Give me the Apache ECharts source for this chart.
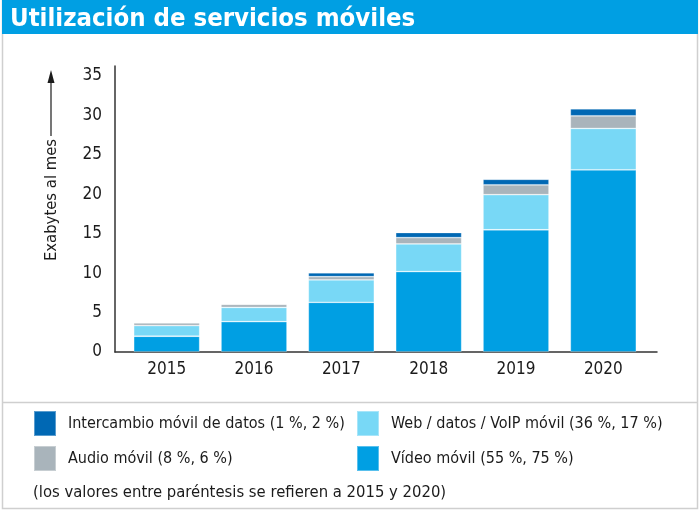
<!DOCTYPE html>
<html>
<head>
<meta charset="utf-8">
<script src="https://cdn.jsdelivr.net/npm/echarts@6/dist/echarts.min.js"></script>
<style>
html,body{margin:0;padding:0;background:#fff;}
#chart{width:700px;height:514px;}
</style>
</head>
<body>
<div id="chart"></div>
<script>
const titleText = 'Utilización de servicios móviles';
const axisName = 'Exabytes al mes';
const footNote = '(los valores entre paréntesis se refieren a 2015 y 2020)';
const years = ['2015', '2016', '2017', '2018', '2019', '2020'];
const yTicks = [0, 5, 10, 15, 20, 25, 30, 35];
const nameVideo = 'Vídeo móvil (55 %, 75 %)';
const nameWeb = 'Web / datos / VoIP móvil (36 %, 17 %)';
const nameAudio = 'Audio móvil (8 %, 6 %)';
const nameData = 'Intercambio móvil de datos (1 %, 2 %)';
const video = [2.0, 3.85, 6.3, 10.2, 15.5, 23.1];
const web = [1.35, 1.8, 2.85, 3.5, 4.45, 5.25];
const audio = [0.35, 0.4, 0.4, 0.8, 1.25, 1.6];
const dataX = [0.04, 0.06, 0.5, 0.65, 0.7, 0.9];

const FONT = '"Liberation Sans Narrow", "DejaVu Sans Condensed", sans-serif';
const TXT = '#1b1b1b';
const yMax = 35 * 286 / 276;

const chart = echarts.init(document.getElementById('chart'), null, {renderer: 'canvas'});

function bar(name, values, color) {
  return {
    name: name, type: 'bar', stack: 'total', data: values,
    xAxisIndex: 0, yAxisIndex: 0, barWidth: 66,
    itemStyle: {color: color, borderColor: 'rgba(255,255,255,0.35)', borderWidth: 0.8},
    emphasis: {disabled: true}
  };
}

const legendText = {color: TXT, fontFamily: FONT, fontSize: 16, padding: [0, 0, 0, 7]};

chart.setOption({
  animation: false,
  title: {
    text: titleText, left: 5, top: 1,
    textStyle: {color: '#fff', fontFamily: FONT, fontWeight: 'bold', fontSize: 25.5}
  },
  graphic: [
    {type: 'rect', z: -1, shape: {x: 2.5, y: 0.5, width: 695, height: 508}, style: {fill: 'none', stroke: '#cfcfcf', lineWidth: 1.5}},
    {type: 'rect', z: 0, shape: {x: 2, y: 0, width: 696, height: 34}, style: {fill: '#009fe3'}},
    {type: 'line', shape: {x1: 2, y1: 402.5, x2: 698, y2: 402.5}, style: {stroke: '#cfcfcf', lineWidth: 1.5}},
    {type: 'text', x: 52, y: 200, rotation: Math.PI / 2,
      style: {text: axisName, fill: TXT, font: '16.5px ' + FONT, textAlign: 'center', textVerticalAlign: 'middle'}},
    {type: 'line', shape: {x1: 51, y1: 136, x2: 51, y2: 80}, style: {stroke: TXT, lineWidth: 1.2}},
    {type: 'polygon', shape: {points: [[51, 70], [47.5, 83], [54.5, 83]]}, style: {fill: TXT}},
    {type: 'text', x: 33, y: 493,
      style: {text: footNote, fill: TXT, font: '16.5px ' + FONT, textAlign: 'left', textVerticalAlign: 'middle'}}
  ],
  legend: [
    {
      orient: 'vertical', left: 28, top: 405, itemWidth: 22, itemHeight: 25, itemGap: 8,
      data: [nameData, nameAudio], icon: 'rect', selectedMode: false, textStyle: legendText
    },
    {
      orient: 'vertical', left: 351, top: 405, itemWidth: 22, itemHeight: 25, itemGap: 8,
      data: [nameWeb, nameVideo], icon: 'rect', selectedMode: false, textStyle: legendText
    }
  ],
  grid: [
    {left: 123, width: 524, top: 66, bottom: 162},
    {left: 115, right: 43, top: 66, bottom: 162}
  ],
  xAxis: [
    {
      type: 'category', gridIndex: 0, data: years,
      axisLine: {show: false}, axisTick: {show: false},
      axisLabel: {color: TXT, fontFamily: FONT, fontSize: 17, margin: 9}
    },
    {
      type: 'value', gridIndex: 1, min: 0, max: 1,
      axisLine: {show: true, lineStyle: {color: '#333', width: 1.5}},
      axisTick: {show: false}, axisLabel: {show: false}, splitLine: {show: false}
    }
  ],
  yAxis: [
    {type: 'value', gridIndex: 0, min: 0, max: yMax, show: false, splitLine: {show: false}},
    {
      type: 'value', gridIndex: 1, min: 0, max: yMax, interval: 5,
      axisLine: {show: true, lineStyle: {color: '#333', width: 1.5}},
      axisTick: {show: false}, splitLine: {show: false},
      axisLabel: {color: TXT, fontFamily: FONT, fontSize: 17, margin: 13, showMaxLabel: false,
        formatter: v => (yTicks.indexOf(v) >= 0 ? String(v) : '')}
    }
  ],
  series: [
    bar(nameVideo, video, '#009fe3'),
    bar(nameWeb, web, '#78d8f6'),
    bar(nameAudio, audio, '#a9b4bb'),
    bar(nameData, dataX, '#0068b4')
  ]
});
</script>
</body>
</html>
